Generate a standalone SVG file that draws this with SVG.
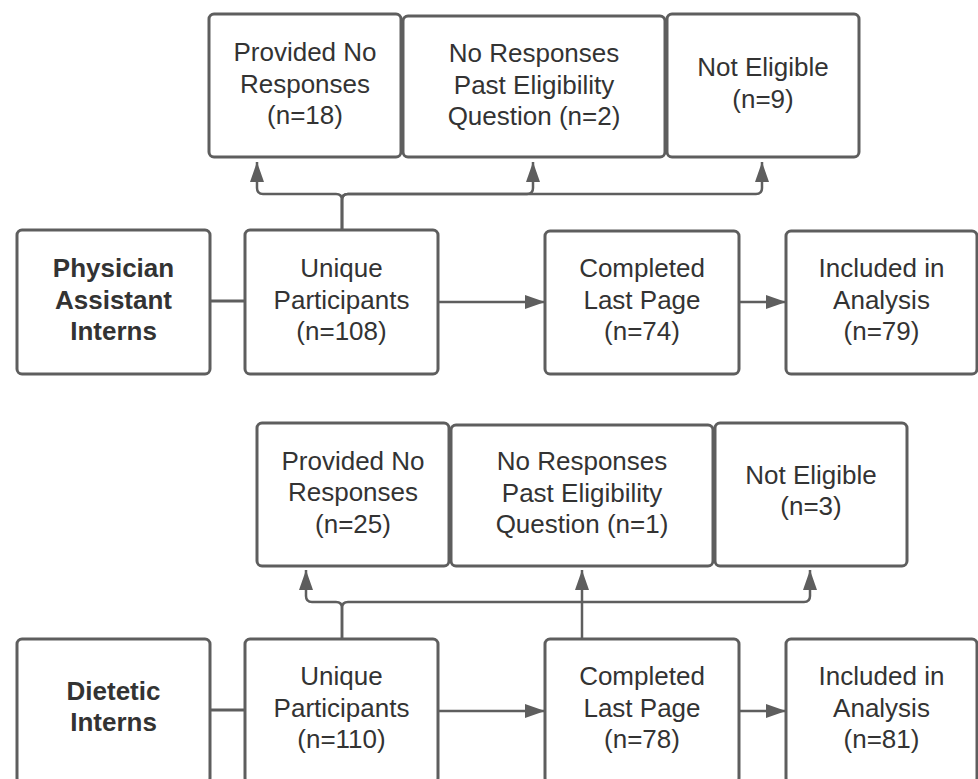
<svg xmlns="http://www.w3.org/2000/svg" width="978" height="779" viewBox="0 0 978 779">
<style>
.box{fill:#ffffff;stroke:#5e5e5e;stroke-width:3}
.t{font-family:"Liberation Sans",Arial,sans-serif;font-size:26px;fill:#333333;text-anchor:middle}
.b{font-weight:bold}
.c{fill:none;stroke:#5e5e5e;stroke-width:2.5;stroke-linejoin:round}
.cw{fill:none;stroke:#5e5e5e;stroke-width:3}
</style>
<defs>
<marker id="ah" viewBox="0 0 20 14" refX="20" refY="7" markerWidth="20" markerHeight="14" markerUnits="userSpaceOnUse" orient="auto">
<path d="M0,0 L20,7 L0,14 Z" fill="#5e5e5e"/>
</marker>
</defs>
<rect width="978" height="779" fill="#ffffff"/>

<g id="connectors">
<path class="c" d="M342,229 V200 Q342,194 336,194 H263 Q257,194 257,188 V162" marker-end="url(#ah)"/>
<path class="c" d="M342,229 V200 Q342,194 348,194 H527 Q533,194 533,188 V162" marker-end="url(#ah)"/>
<path class="c" d="M342,229 V200 Q342,194 348,194 H756 Q762,194 762,188 V162" marker-end="url(#ah)"/>
<path class="cw" d="M210,301 H245"/>
<path class="c" d="M438,302 H545" marker-end="url(#ah)"/>
<path class="c" d="M739,302 H786" marker-end="url(#ah)"/>
<path class="c" d="M342,639 V608 Q342,602 336,602 H312 Q306,602 306,596 V570" marker-end="url(#ah)"/>
<path class="c" d="M342,639 V608 Q342,602 348,602 H804 Q810,602 810,596 V570" marker-end="url(#ah)"/>
<path class="c" d="M582,639 V570" marker-end="url(#ah)"/>
<path class="cw" d="M210,710 H245"/>
<path class="c" d="M438,711 H545" marker-end="url(#ah)"/>
<path class="c" d="M739,711 H786" marker-end="url(#ah)"/>
</g>

<g id="pa-no-responses">
<rect class="box" x="209" y="14" width="192" height="143" rx="5"/>
<text class="t" x="305" y="61">Provided No</text>
<text class="t" x="305" y="92.5">Responses</text>
<text class="t" x="305" y="124">(n=18)</text>
</g>
<g id="pa-no-past-elig">
<rect class="box" x="403" y="16" width="262" height="141" rx="5"/>
<text class="t" x="534" y="62">No Responses</text>
<text class="t" x="534" y="93.5">Past Eligibility</text>
<text class="t" x="534" y="125">Question (n=2)</text>
</g>
<g id="pa-not-eligible">
<rect class="box" x="667" y="14" width="192" height="143" rx="5"/>
<text class="t" x="763" y="76">Not Eligible</text>
<text class="t" x="763" y="107.5">(n=9)</text>
</g>
<g id="pa-interns">
<rect class="box" x="17" y="230" width="193" height="144" rx="5"/>
<text class="t b" x="113.5" y="277">Physician</text>
<text class="t b" x="113.5" y="308.5">Assistant</text>
<text class="t b" x="113.5" y="340">Interns</text>
</g>
<g id="pa-unique">
<rect class="box" x="245" y="230" width="193" height="144" rx="5"/>
<text class="t" x="341.5" y="277">Unique</text>
<text class="t" x="341.5" y="308.5">Participants</text>
<text class="t" x="341.5" y="340">(n=108)</text>
</g>
<g id="pa-completed">
<rect class="box" x="545" y="231" width="194" height="143" rx="5"/>
<text class="t" x="642" y="277">Completed</text>
<text class="t" x="642" y="308.5">Last Page</text>
<text class="t" x="642" y="340">(n=74)</text>
</g>
<g id="pa-included">
<rect class="box" x="786" y="231" width="191" height="143" rx="5"/>
<text class="t" x="881.5" y="277">Included in</text>
<text class="t" x="881.5" y="308.5">Analysis</text>
<text class="t" x="881.5" y="340">(n=79)</text>
</g>

<g id="di-no-responses">
<rect class="box" x="257" y="423" width="192" height="143" rx="5"/>
<text class="t" x="353" y="469.5">Provided No</text>
<text class="t" x="353" y="501">Responses</text>
<text class="t" x="353" y="532.5">(n=25)</text>
</g>
<g id="di-no-past-elig">
<rect class="box" x="451" y="425" width="262" height="141" rx="5"/>
<text class="t" x="582" y="470">No Responses</text>
<text class="t" x="582" y="501.5">Past Eligibility</text>
<text class="t" x="582" y="533">Question (n=1)</text>
</g>
<g id="di-not-eligible">
<rect class="box" x="715" y="423" width="192" height="143" rx="5"/>
<text class="t" x="811" y="483.5">Not Eligible</text>
<text class="t" x="811" y="515">(n=3)</text>
</g>
<g id="di-interns">
<rect class="box" x="17" y="639" width="193" height="144" rx="5"/>
<text class="t b" x="113.5" y="699.5">Dietetic</text>
<text class="t b" x="113.5" y="731">Interns</text>
</g>
<g id="di-unique">
<rect class="box" x="245" y="639" width="193" height="144" rx="5"/>
<text class="t" x="341.5" y="685">Unique</text>
<text class="t" x="341.5" y="716.5">Participants</text>
<text class="t" x="341.5" y="748">(n=110)</text>
</g>
<g id="di-completed">
<rect class="box" x="545" y="639" width="194" height="144" rx="5"/>
<text class="t" x="642" y="685">Completed</text>
<text class="t" x="642" y="716.5">Last Page</text>
<text class="t" x="642" y="748">(n=78)</text>
</g>
<g id="di-included">
<rect class="box" x="786" y="639" width="191" height="144" rx="5"/>
<text class="t" x="881.5" y="685">Included in</text>
<text class="t" x="881.5" y="716.5">Analysis</text>
<text class="t" x="881.5" y="748">(n=81)</text>
</g>
</svg>
